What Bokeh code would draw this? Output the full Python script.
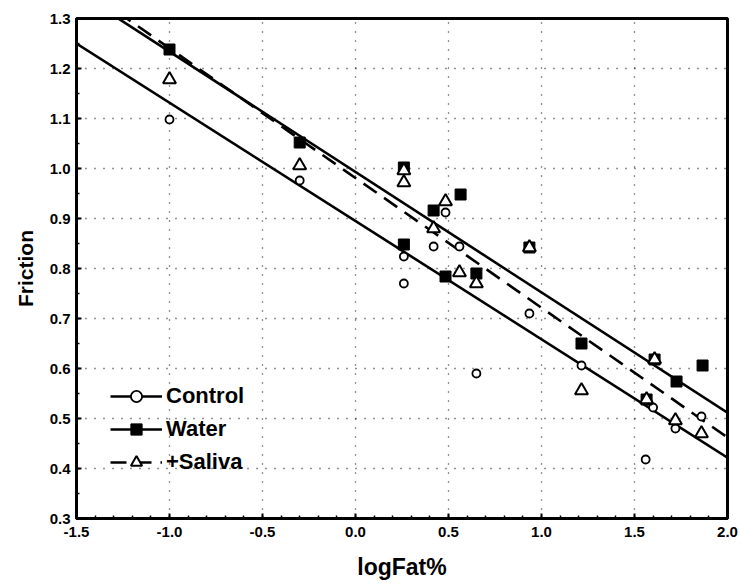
from bokeh.plotting import figure
from bokeh.embed import file_html
from bokeh.resources import INLINE
from bokeh.models import Legend, LegendItem, FixedTicker, Range1d
import numpy as np

# ---- data ----
control_x = [-1.0, -0.30, 0.26, 0.26, 0.42, 0.484, 0.559, 0.65, 0.935, 1.215, 1.56, 1.60, 1.72, 1.86]
control_y = [1.098, 0.976, 0.824, 0.770, 0.844, 0.912, 0.844, 0.590, 0.710, 0.606, 0.418, 0.522, 0.480, 0.504]

water_x = [-1.0, -0.30, 0.26, 0.26, 0.42, 0.484, 0.565, 0.65, 0.935, 1.215, 1.565, 1.608, 1.726, 1.866]
water_y = [1.238, 1.052, 1.002, 0.848, 0.916, 0.784, 0.948, 0.790, 0.842, 0.650, 0.538, 0.618, 0.574, 0.606]

saliva_x = [-1.0, -0.30, 0.26, 0.26, 0.42, 0.484, 0.559, 0.65, 0.935, 1.215, 1.565, 1.608, 1.72, 1.86]
saliva_y = [1.178, 1.006, 0.996, 0.972, 0.880, 0.934, 0.792, 0.770, 0.842, 0.556, 0.538, 0.618, 0.496, 0.470]

# regression lines (intercept, slope)
fit_names = ["Control", "Water", "+Saliva"]
fit_intercept = [0.895, 0.993, 0.981]
fit_slope = [-0.2366, -0.2407, -0.2595]

x_ticks = [-1.5, -1.0, -0.5, 0.0, 0.5, 1.0, 1.5, 2.0]
y_ticks = [0.3, 0.4, 0.5, 0.6, 0.7, 0.8, 0.9, 1.0, 1.1, 1.2, 1.3]

FONT = "Liberation Sans Narrow, Liberation Sans, Arial, sans-serif"

p = figure(width=741, height=587, output_backend="svg", toolbar_location=None,
           x_range=Range1d(-1.5, 2.0), y_range=Range1d(0.3, 1.3),
           min_border_left=76, min_border_right=14, min_border_top=18, min_border_bottom=69)

p.background_fill_color = "white"
p.border_fill_color = "white"
p.outline_line_color = "black"
p.outline_line_width = 3
p.outline_line_alpha = 1

for ax in (p.xaxis[0], p.yaxis[0]):
    ax.axis_line_color = "black"
    ax.axis_line_width = 3
    ax.major_tick_in = 5
    ax.major_tick_out = 0
    ax.minor_tick_in = 3
    ax.minor_tick_out = 0
    ax.major_tick_line_width = 2
    ax.minor_tick_line_width = 1.5
    ax.major_label_text_font = FONT
    ax.major_label_text_font_style = "bold"
    ax.major_label_text_font_size = "15px"
    ax.major_label_text_color = "black"
    ax.axis_label_text_font = FONT
    ax.axis_label_text_font_style = "bold"
    ax.axis_label_text_color = "black"

p.xaxis.ticker = FixedTicker(ticks=x_ticks, minor_ticks=[round(v, 2) for v in np.arange(-1.5, 2.01, 0.1)])
p.yaxis.ticker = FixedTicker(ticks=y_ticks, minor_ticks=[round(v, 3) for v in np.arange(0.3, 1.31, 0.05)])
p.xaxis.major_label_overrides = {v: f"{v:.1f}" for v in x_ticks}
p.yaxis.major_label_overrides = {v: f"{v:.1f}" for v in y_ticks}
p.xaxis.major_label_standoff = 8
p.yaxis.major_label_standoff = 6

p.xaxis.axis_label = "logFat%"
p.xaxis.axis_label_text_font_size = "23px"
p.xaxis.axis_label_standoff = 14
p.yaxis.axis_label = "Friction"
p.yaxis.axis_label_text_font_size = "21px"
p.yaxis.axis_label_standoff = 10

for g in (p.xgrid[0], p.ygrid[0]):
    g.grid_line_color = "black"
    g.grid_line_width = 1.3
    g.grid_line_dash = "1 8"
    g.grid_line_alpha = 0.85

# regression lines
xs_line = [-1.5, 2.0]
dashes = ["solid", "solid", "16 9"]
line_r = []
for name, b, m, d in zip(fit_names, fit_intercept, fit_slope, dashes):
    ys = [b + m * x for x in xs_line]
    r = p.line(xs_line, ys, line_color="black", line_width=2.6, line_dash=d)
    line_r.append(r)

# points
r_c = p.scatter(control_x, control_y, marker="circle", size=8, fill_color="white",
                line_color="black", line_width=1.8)
r_w = p.scatter(water_x, water_y, marker="square", size=11, fill_color="black",
                line_color="black", line_width=1)
r_s = p.scatter(saliva_x, saliva_y, marker="triangle", size=13, fill_color="white",
                line_color="black", line_width=2)

legend = Legend(items=[
    LegendItem(label="Control", renderers=[line_r[0], r_c]),
    LegendItem(label="Water", renderers=[line_r[1], r_w]),
    LegendItem(label="+Saliva", renderers=[line_r[2], r_s]),
], location=(30, 38))
legend.background_fill_alpha = 0
legend.border_line_alpha = 0
legend.label_text_font = FONT
legend.label_text_font_style = "bold"
legend.label_text_font_size = "22px"
legend.label_text_color = "black"
legend.glyph_width = 52
legend.glyph_height = 28
legend.label_height = 28
legend.spacing = 5
legend.padding = 4
legend.margin = 0
legend.label_standoff = 4
p.add_layout(legend, "center")

open("out.html", "w").write(file_html(p, INLINE))
